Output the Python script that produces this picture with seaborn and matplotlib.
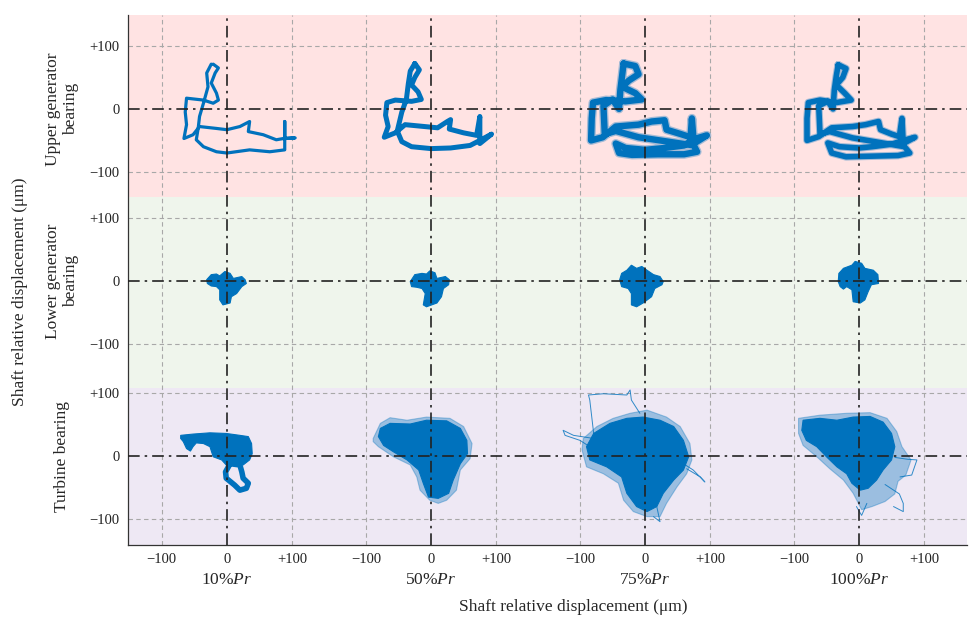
import numpy as np
import matplotlib
matplotlib.use("Agg")
import matplotlib.pyplot as plt
import matplotlib.transforms as mtransforms
import seaborn as sns

sns.set_theme(style="white")
plt.rcParams['font.family'] = ['Liberation Serif', 'DejaVu Serif']
plt.rcParams['mathtext.fontset'] = 'custom'
plt.rcParams['mathtext.rm'] = 'Liberation Serif'
plt.rcParams['mathtext.it'] = 'Liberation Serif:italic'

# ---------------- data ----------------
loads = ["10%", "50%", "75%", "100%"]
bearings = ["Upper generator\nbearing", "Lower generator\nbearing", "Turbine bearing"]
tick_vals = [-100, 0, 100]
x_tick_labels = ["\u2212100", "0", "+100"]
y_tick_labels = ["\u2212100", "0", "+100"]

# Upper generator bearing orbits (µm)
ugb10_x = [-21, -13, -18, -24, -16, -13, -21, -36, -62, -64, -62, -66, -52, -42, -16, 0, 20, 35, 33, 56, 76, 87, 105, 89, 89, 89, 66, 35, 0, -16, -36, -47, -44, -42, -36, -29, -31, -24]
ugb10_y = [71, 65, 57, 41, 25, 14, 9, 14, 17, -5, -25, -47, -41, -28, -31, -33, -28, -20, -36, -41, -49, -47, -46, -47, -20, -65, -68, -65, -70, -68, -60, -49, -30, -12, 9, 35, 57, 71]
ugb50_x = [-25, -18, -25, -30, -20, -15, -30, -55, -68, -70, -66, -72, -55, -40, -10, 10, 25, 30, 28, 50, 70, 75, 75, 93, 75, 60, 30, 0, -30, -45, -52, -45, -38, -35, -32, -25]
ugb50_y = [72, 62, 50, 38, 27, 15, 12, 14, 10, -10, -28, -45, -38, -25, -28, -30, -20, -17, -32, -38, -42, -12, -55, -40, -50, -58, -62, -63, -60, -52, -35, -5, 15, 40, 60, 72]
ugb75_x = [-33, -15, -10, -25, -35, -15, -5, -30, -60, -80, -82, -83, -65, -45, -10, 10, 30, 33, 55, 70, 72, 75, 95, 75, 60, 30, 0, -30, -45, -40, -20, 20, 60, 80, 75, -10, -45, -62, -64, -50, -40, -38, -35, -33]
ugb75_y = [72, 68, 55, 45, 35, 25, 15, 12, 14, 10, -15, -50, -45, -28, -25, -20, -18, -33, -40, -45, -15, -55, -42, -48, -58, -62, -65, -62, -55, -70, -73, -72, -72, -68, -58, -45, -35, -40, 5, 15, 0, 30, 55, 72]
ugb100_x = [-32, -20, -25, -35, -22, -12, -35, -60, -78, -80, -80, -62, -42, -10, 10, 30, 33, 50, 62, 66, 68, 86, 68, 50, 20, 0, -30, -48, -42, -20, 20, 60, 78, 70, -10, -45, -60, -62, -48, -40, -38, -35, -32]
ugb100_y = [70, 64, 50, 38, 25, 14, 10, 14, 10, -15, -50, -44, -30, -28, -25, -20, -33, -40, -44, -15, -55, -45, -50, -56, -60, -62, -60, -54, -70, -76, -75, -74, -70, -60, -46, -36, -40, 5, 12, 0, 30, 52, 70]

# Lower generator bearing orbit envelopes (µm)
lgb10_x = [-31, -24, -16, -11, -3, 5, 10, 23, 28, 30, 23, 15, 7, 5, -6, -11, -11, -16, -24, -30]
lgb10_y = [2, 10, 11, 8, 15, 12, 4, 7, 2, -4, -9, -20, -25, -35, -38, -30, -14, -9, -8, -4]
lgb50_x = [-32, -25, -14, -7, -2, 6, 9, 22, 28, 27, 19, 16, 9, -7, -12, -9, -14, -22, -30]
lgb50_y = [-1, 10, 12, 11, 16, 13, 4, 7, 2, -6, -12, -25, -35, -41, -38, -20, -12, -10, -9]
lgb75_x = [-39, -36, -28, -21, -13, -5, 3, 13, 23, 28, 26, 15, 10, -3, -13, -21, -21, -26, -36]
lgb75_y = [2, 12, 17, 25, 20, 23, 17, 10, 7, -1, -6, -12, -25, -35, -41, -38, -20, -12, -9]
lgb100_x = [-32, -31, -24, -11, -6, 4, 9, 22, 29, 30, 19, 14, 9, 2, -9, -11, -19, -24, -29]
lgb100_y = [-1, 12, 20, 25, 31, 28, 20, 17, 10, -4, -6, -17, -30, -35, -33, -14, -9, -13, -9]

# Turbine bearing, 10 %Pr: dense core + lower loop (µm)
tb10_x = [-71, -52, -26, -1, 20, 33, 38, 39, 35, 25, 10, -1, -8, -21, -26, -36, -47, -52, -56, -62, -67, -71]
tb10_y = [33, 35, 37, 36, 33, 31, 20, 4, -6, -14, -12, -14, -6, -1, 15, 20, 21, 15, 8, 12, 23, 28]
tb10_loop_x = [5, -2, -1, 12, 20, 30, 33, 25, 23, 20, 5]
tb10_loop_y = [-12, -25, -35, -46, -54, -51, -43, -35, -25, -14, -12]

# Turbine bearing, 50 %Pr: core and outer fringe (µm)
tb50_core_x = [-78, -63, -32, -7, 24, 45, 55, 56, 45, 34, 27, 11, -4, -12, -19, -37, -58, -73, -81]
tb50_core_y = [44, 52, 51, 57, 56, 44, 25, 4, -12, -38, -59, -67, -65, -43, -22, -6, 7, 17, 31]
tb50_edge_x = [-89, -78, -63, -37, -7, 29, 50, 63, 60, 45, 39, 24, 11, -2, -17, -22, -32, -58, -81, -89]
tb50_edge_y = [28, 52, 61, 57, 62, 60, 47, 20, -4, -22, -54, -70, -75, -70, -54, -33, -14, -1, 15, 23]

# Turbine bearing, 75 %Pr
tb75_core_x = [-79, -54, -28, -3, 23, 44, 59, 67, 59, 44, 28, 18, 3, -13, -28, -36, -59, -85, -90]
tb75_core_y = [36, 52, 60, 62, 57, 47, 25, -1, -22, -38, -59, -80, -88, -80, -59, -33, -17, -6, 15]
tb75_edge_x = [-95, -74, -49, -23, 3, 33, 54, 69, 72, 64, 49, 33, 23, 3, -18, -33, -41, -64, -90, -97]
tb75_edge_y = [28, 47, 60, 68, 73, 62, 47, 20, -6, -28, -49, -75, -96, -96, -88, -70, -43, -28, -17, 10]
tb75_loop_x = [-79, -85, -87, -64, -28, -23, -21, -8]
tb75_loop_y = [36, 89, 97, 99, 97, 105, 89, 68]
tb75_left_x = [-79, -110, -126, -123, -100, -85]
tb75_left_y = [28, 33, 41, 33, 25, 15]
tb75_right_x = [59, 74, 92, 85, 64]
tb75_right_y = [-12, -22, -41, -33, -20]
tb75_bottom_x = [18, 23, 13]
tb75_bottom_y = [-80, -104, -96]

# Turbine bearing, 100 %Pr
tb100_core_x = [-86, -60, -34, -9, 17, 37, 50, 55, 50, 37, 27, 14, 2, -11, -19, -34, -50, -65, -81, -88]
tb100_core_y = [57, 60, 57, 62, 63, 54, 36, 15, -6, -22, -38, -51, -54, -43, -28, -17, -1, 15, 25, 41]
tb100_edge_x = [-93, -60, -19, 17, 43, 58, 66, 80, 72, 60, 55, 40, 20, 4, -9, -24, -45, -65, -86, -93]
tb100_edge_y = [60, 65, 68, 69, 60, 39, 15, -6, -30, -40, -60, -72, -80, -85, -59, -38, -20, -1, 17, 36]
tb100_right_x = [55, 75, 89, 81, 63]
tb100_right_y = [-2, -5, -6, -30, -33]
tb100_low_x = [40, 62, 68, 68, 53]
tb100_low_y = [-45, -60, -75, -88, -80]
tb100_bot_x = [12, 4, -4]
tb100_bot_y = [-75, -94, -80]

# ---------------- layout ----------------
BLUE = "#0072BD"
col_off = [0, 314, 643, 972]
row_off = [0, -273, -551]
bands = [("#FFE3E3", -140, 160), ("#EFF5EC", -443, -140), ("#EEE8F4", -700, -443)]

fig = plt.figure(figsize=(9.69, 6.21), dpi=100)
ax = fig.add_axes([128 / 969, 76 / 621, 839 / 969, 530 / 621])
ax.set_xlim(-152, 1138)
ax.set_ylim(-692, 149)

for color, lo, hi in bands:
    ax.axhspan(lo, hi, color=color, zorder=0, lw=0)

# gray dashed grid at ±100
for c in col_off:
    for t in (-100, 100):
        ax.axvline(c + t, color="#a8a8a8", lw=0.8, ls=(0, (4, 3)), zorder=1)
for r in row_off:
    for t in (-100, 100):
        ax.axhline(r + t, color="#a8a8a8", lw=0.8, ls=(0, (4, 3)), zorder=1)


def path(xs, ys, c, r, lw, alpha=1.0, z=3):
    sns.lineplot(x=np.asarray(xs) + col_off[c], y=np.asarray(ys) + row_off[r],
                 sort=False, estimator=None, color=BLUE, lw=lw, alpha=alpha,
                 ax=ax, zorder=z, solid_joinstyle="round", solid_capstyle="round")


def blob(xs, ys, c, r, alpha=1.0, z=3):
    ax.fill(np.asarray(xs) + col_off[c], np.asarray(ys) + row_off[r],
            color=BLUE, alpha=alpha, lw=0.8, zorder=z)


# Row 1: upper generator bearing
path(ugb10_x, ugb10_y, 0, 0, 2.3)
path(ugb50_x, ugb50_y, 1, 0, 3.6)
path(ugb75_x, ugb75_y, 2, 0, 6.5, alpha=0.35)
path(ugb75_x, ugb75_y, 2, 0, 4.6)
path(ugb100_x, ugb100_y, 3, 0, 5.5, alpha=0.35)
path(ugb100_x, ugb100_y, 3, 0, 4.0)

# Row 2: lower generator bearing
blob(lgb10_x, lgb10_y, 0, 1)
blob(lgb50_x, lgb50_y, 1, 1)
blob(lgb75_x, lgb75_y, 2, 1)
blob(lgb100_x, lgb100_y, 3, 1)

# Row 3: turbine bearing
blob(tb10_x, tb10_y, 0, 2)
path(tb10_loop_x, tb10_loop_y, 0, 2, 4.0)

blob(tb50_edge_x, tb50_edge_y, 1, 2, alpha=0.35)
blob(tb50_core_x, tb50_core_y, 1, 2)

blob(tb75_edge_x, tb75_edge_y, 2, 2, alpha=0.35)
blob(tb75_core_x, tb75_core_y, 2, 2)
for xs, ys in [(tb75_loop_x, tb75_loop_y), (tb75_left_x, tb75_left_y),
               (tb75_right_x, tb75_right_y), (tb75_bottom_x, tb75_bottom_y)]:
    path(xs, ys, 2, 2, 0.7, alpha=0.8)

blob(tb100_edge_x, tb100_edge_y, 3, 2, alpha=0.35)
blob(tb100_core_x, tb100_core_y, 3, 2)
for xs, ys in [(tb100_right_x, tb100_right_y), (tb100_low_x, tb100_low_y),
               (tb100_bot_x, tb100_bot_y)]:
    path(xs, ys, 3, 2, 0.7, alpha=0.8)

# black dash-dot centre lines
for c in col_off:
    ax.axvline(c, color="#222222", lw=1.2, ls=(0, (7, 3, 1.5, 3)), zorder=5)
for r in row_off:
    ax.axhline(r, color="#222222", lw=1.2, ls=(0, (7, 3, 1.5, 3)), zorder=5)

# ticks
ax.set_xticks([c + t for c in col_off for t in tick_vals])
ax.set_xticklabels(x_tick_labels * len(col_off), fontsize=10.5)
yt = []
ytl = []
for r in row_off:
    for t, lab in zip(tick_vals, y_tick_labels):
        yt.append(r + t)
        ytl.append(lab)
ax.set_yticks(yt)
ax.set_yticklabels(ytl, fontsize=10.5)
ax.tick_params(axis="both", length=0, pad=6, colors="#222222")

for s in ("top", "right"):
    ax.spines[s].set_visible(False)
for s in ("left", "bottom"):
    ax.spines[s].set_color("#333333")
    ax.spines[s].set_linewidth(0.9)

# column labels (load)
trans = mtransforms.blended_transform_factory(ax.transData, fig.transFigure)
for c, lab in zip(col_off, loads):
    ax.text(c, 1 - 580 / 621, lab + r"$\mathit{Pr}$", transform=trans,
            ha="center", va="center", fontsize=12.5)

# row labels (bearing)
for r, lab in zip(row_off, bearings):
    fig.text(62 / 969, ax.transData.transform((0, r))[1] / 621, lab,
             rotation=90, ha="center", va="center", fontsize=12.5,
             multialignment="center", linespacing=1.1)

fig.text(573 / 969, 1 - 607 / 621, "Shaft relative displacement (\u03bcm)",
         ha="center", va="center", fontsize=12.5)
fig.text(20 / 969, 1 - 292 / 621, "Shaft relative displacement (\u03bcm)",
         rotation=90, ha="center", va="center", fontsize=12.5)

fig.savefig("out.png", dpi=100)
